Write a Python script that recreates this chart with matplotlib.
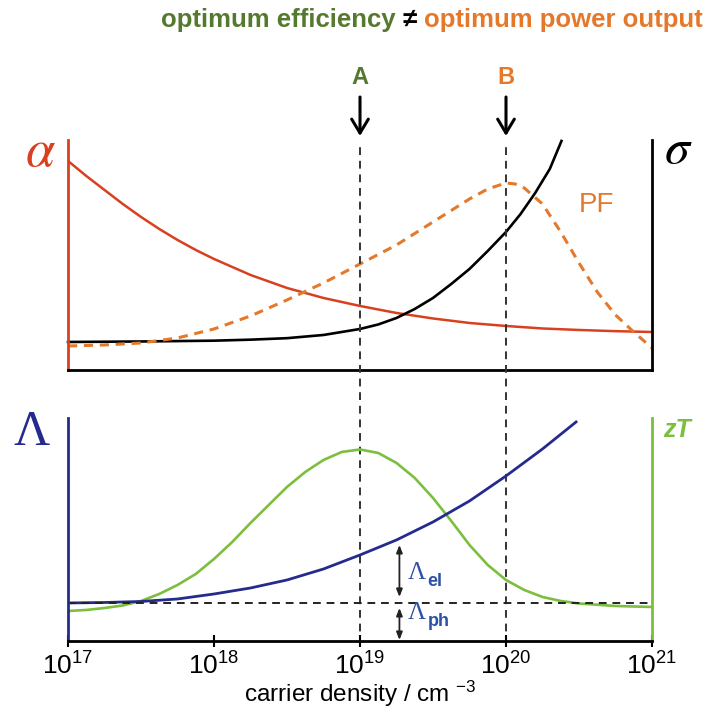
import numpy as np
import matplotlib.pyplot as plt

plt.rcParams['font.family'] = ['Liberation Sans', 'DejaVu Sans']
plt.rcParams['mathtext.fontset'] = 'custom'
plt.rcParams['mathtext.rm'] = 'Liberation Sans'
plt.rcParams['mathtext.it'] = 'Liberation Sans:italic'
plt.rcParams['mathtext.bf'] = 'Liberation Sans:bold'

# log10 of carrier density (cm^-3) and curve heights in arbitrary units
logn_alpha = [17.0, 17.125, 17.25, 17.375, 17.5, 17.625, 17.75, 17.875, 18.0,
              18.25, 18.5, 18.75, 19.0, 19.25, 19.5, 19.75, 20.0, 20.25,
              20.5, 20.75, 21.0]
alpha = [209, 194, 180, 166, 153, 141, 130, 120, 111, 95, 82, 72, 64, 57,
         51.5, 47, 44, 41.5, 40, 38.8, 38]

logn_sigma = [17.0, 17.5, 18.0, 18.25, 18.5, 18.75, 19.0, 19.125, 19.25,
              19.375, 19.5, 19.625, 19.75, 19.875, 20.0, 20.1, 20.2, 20.3,
              20.38]
sigma = [28, 28.5, 29.3, 30.3, 31.8, 35, 41, 45.5, 52, 61, 72, 86, 101, 119,
         138, 156, 177, 201, 229]

logn_pf = [17.0, 17.25, 17.5, 17.75, 18.0, 18.25, 18.5, 18.75, 19.0, 19.25,
           19.5, 19.75, 19.875, 20.0, 20.0625, 20.125, 20.25, 20.375, 20.5,
           20.625, 20.75, 20.875, 21.0]
pf = [24, 25, 27, 32, 41, 54, 70, 87, 106, 125, 148, 171, 181, 187, 186, 182,
      166, 138, 107, 78, 55, 38, 22]

logn_zt = [17.0, 17.125, 17.25, 17.375, 17.5, 17.625, 17.75, 17.875, 18.0,
           18.125, 18.25, 18.375, 18.5, 18.625, 18.75, 18.875, 19.0, 19.125,
           19.25, 19.375, 19.5, 19.625, 19.75, 19.875, 20.0, 20.125, 20.25,
           20.375, 20.5, 20.75, 21.0]
zt = [30, 31, 33, 35.5, 40, 47, 56, 67, 82, 99, 118, 136, 154, 169, 181, 189,
      191.5, 188, 178, 163, 143, 120, 96, 76, 61, 51, 44, 40, 37.5, 35, 34]

logn_lam = [17.0, 17.25, 17.5, 17.75, 18.0, 18.25, 18.5, 18.75, 19.0, 19.25,
            19.5, 19.75, 20.0, 20.25, 20.48]
lam = [38, 38.5, 39.5, 42, 47, 53, 61, 72, 86, 101, 119, 140, 165, 192, 219]

lam_ph = 38                      # lattice part, flat
lam_el_span = (44, 96)           # arrow marking the electronic part
lam_ph_span = (1, 33)
n_opt_eff = 1e19                 # A
n_opt_pf = 1e20                  # B
decades = [1e17, 1e18, 1e19, 1e20, 1e21]

RED = '#d8401f'
ORANGE = '#e5792b'
BLUE = '#252b8c'
LBLUE = '#2f50a8'
GREEN = '#7cbf3e'
DGREEN = '#557a2f'

fig = plt.figure(figsize=(7.1, 7.13), dpi=100)
ax_top = fig.add_axes([0.0958, 0.4811, 0.8225, 0.3226])
ax_bot = fig.add_axes([0.0958, 0.1010, 0.8225, 0.3128])

for ax in (ax_top, ax_bot):
    ax.set_xscale('log')
    ax.set_xlim(1e17, 1e21)
    ax.spines['top'].set_visible(False)
    for s in ('left', 'right', 'bottom'):
        ax.spines[s].set_linewidth(2.0)
    ax.set_yticks([])

# --- Seebeck, conductivity, power factor
ax_top.set_ylim(0, 230)
ax_top.plot(10 ** np.array(logn_alpha), alpha, color=RED, lw=1.8)
ax_top.plot(10 ** np.array(logn_sigma), sigma, color='black', lw=1.9,
            clip_on=False)
ax_top.plot(10 ** np.array(logn_pf), pf, color=ORANGE, lw=2.2,
            ls=(0, (3, 2.2)))
ax_top.spines['left'].set_color(RED)
ax_top.set_xticks([])
ax_top.minorticks_off()
ax_top.text(10 ** 20.62, 165, 'PF', color=ORANGE, fontsize=20,
            ha='center', va='center')

# --- thermal conductivity and zT
ax_bot.set_ylim(0, 223)
ax_bot.plot(10 ** np.array(logn_zt), zt, color=GREEN, lw=1.9)
ax_bot.plot(10 ** np.array(logn_lam), lam, color=BLUE, lw=2.0)
ax_bot.axhline(lam_ph, color='#222222', lw=1.4, ls=(0, (4, 3)))
ax_bot.spines['left'].set_color(BLUE)
ax_bot.spines['right'].set_color(GREEN)
ax_bot.set_xticks(decades)
ax_bot.minorticks_off()
ax_bot.tick_params(axis='x', direction='inout', length=8, width=1.5,
                   labelsize=19, pad=4)
ax_bot.set_xlabel('carrier density / cm $^{-3}$', fontsize=17.5, labelpad=0)

x_arr = 10 ** 19.27
for lo, hi in (lam_el_span, lam_ph_span):
    ax_bot.annotate('', xy=(x_arr, lo), xytext=(x_arr, hi),
                    arrowprops=dict(arrowstyle='<|-|>,head_length=0.45,head_width=0.18',
                                    color='#222222', lw=1.3,
                                    shrinkA=0, shrinkB=0))

# Lambda_el / Lambda_ph: serif capital with a sans subscript
for yv, sub in ((68, 'el'), (28, 'ph')):
    big = ax_bot.text(10 ** 19.33, yv, 'Λ', color=LBLUE, fontsize=18,
                      family='Liberation Serif', ha='left', va='center')
    ax_bot.annotate(sub, xy=(1, 0.5), xycoords=big, xytext=(1, -6),
                    textcoords='offset points', color=LBLUE, fontsize=13,
                    fontweight='bold', ha='left', va='center')

# dashed guides through both panels
for xv in (n_opt_eff, n_opt_pf):
    ax_bot.axvline(xv, ymin=-0.02, ymax=(641 - 145) / 223, color='#333333',
                   lw=1.4, ls=(0, (4, 3)), clip_on=False, zorder=1)

# A / B markers with arrows
for xv, lab, col in ((n_opt_eff, 'A', DGREEN), (n_opt_pf, 'B', ORANGE)):
    ax_top.annotate('', xy=(xv, 1 - 136 / 713), xytext=(xv, 1 - 97 / 713),
                    xycoords=('data', 'figure fraction'),
                    textcoords=('data', 'figure fraction'),
                    arrowprops=dict(arrowstyle='->,head_length=0.5,head_width=0.3',
                                    color='black', lw=2.2, mutation_scale=20,
                                    shrinkA=0, shrinkB=0))
    ax_top.annotate(lab, xy=(xv, 1 - 77 / 713),
                    xycoords=('data', 'figure fraction'), ha='center',
                    va='center', color=col, fontsize=17, fontweight='bold')

# axis symbols
fig.text(40 / 710, 1 - 152 / 713, r'$\alpha$', color=RED, fontsize=38,
         math_fontfamily='stix', ha='center', va='center')
fig.text(678 / 710, 1 - 150 / 713, r'$\sigma$', color='black', fontsize=36,
         math_fontfamily='stix', ha='center', va='center')
fig.text(32 / 710, 1 - 433 / 713, 'Λ', color=BLUE, fontsize=36,
         family='Liberation Serif', ha='center', va='center')
fig.text(677 / 710, 1 - 430 / 713, 'zT', color=GREEN, fontsize=18,
         style='italic', fontweight='bold', ha='center', va='center')

# headline in three colours, right aligned
t3 = fig.text(0.99, 1 - 27 / 713, 'optimum power output', color=ORANGE,
              fontsize=18.5, fontweight='bold', ha='right', va='baseline')
t2 = ax_top.annotate(' \u2260 ', xy=(0, 0), xycoords=t3, color='black',
                     fontsize=18.5, fontweight='bold', ha='right',
                     va='bottom', annotation_clip=False)
ax_top.annotate('optimum efficiency', xy=(0, 0), xycoords=t2, color=DGREEN,
                fontsize=18.5, fontweight='bold', ha='right', va='bottom',
                annotation_clip=False)

fig.savefig('out.png', dpi=100)
